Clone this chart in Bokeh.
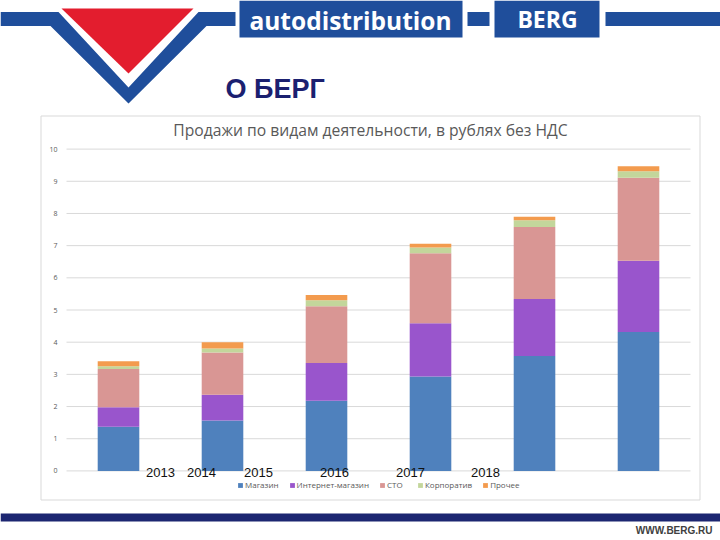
from bokeh.plotting import figure
from bokeh.models import (ColumnDataSource, Range1d, FixedTicker, Label, LinearAxis)
from bokeh.embed import file_html
from bokeh.resources import INLINE

# ---- data ----
years = [2013, 2014, 2015, 2016, 2017, 2018]
series_names = ["Магазин", "Интернет-магазин", "СТО", "Корпоратив", "Прочее"]
shop = [1.37, 1.57, 2.18, 2.93, 3.57, 4.32]
online = [0.61, 0.80, 1.17, 1.66, 1.77, 2.21]
sto = [1.19, 1.31, 1.77, 2.17, 2.24, 2.58]
corp = [0.08, 0.12, 0.18, 0.18, 0.21, 0.20]
other = [0.16, 0.20, 0.17, 0.12, 0.11, 0.16]
y_ticks = [0, 1, 2, 3, 4, 5, 6, 7, 8, 9, 10]
overlay_year_labels = ["2013", "2014", "2015", "2016", "2017", "2018"]

chart_title = "Продажи по видам деятельности, в рублях без НДС"
slide_title = "О БЕРГ"
site = "WWW.BERG.RU"

# ---- styles / layout (page pixels) ----
colors = ["#4F81BD", "#9955CC", "#D99694", "#C3D69B", "#F39B4E"]
BLUE = "#1F4E9B"
RED = "#E31D2E"
NAVY = "#1B2070"
FOOT = "#1C2671"
W, H = 720, 540
plot_left, plot_right = 65, 690        # plot area of the chart
y0_px, px_per_unit = 470.4, 32.18      # page y of value 0, pixels per unit
x_first_px, px_per_year = 118, 104     # page x of first bar, spacing
overlay_label_x = [160, 201, 258, 334, 410, 485]
overlay_label_y = 472

p = figure(width=W, height=H, x_range=Range1d(0, W), y_range=Range1d(H, 0),
           toolbar_location=None, output_backend="svg", min_border=0,
           x_axis_location=None, y_axis_location=None, title=None)
p.grid.visible = False
p.outline_line_color = None
p.background_fill_color = "white"
p.border_fill_color = "white"

# chart coordinate system mapped onto the page
p.extra_x_ranges = {"cx": Range1d(years[0] - x_first_px / px_per_year,
                                  years[0] + (W - x_first_px) / px_per_year)}
p.extra_y_ranges = {"cy": Range1d((y0_px - H) / px_per_unit, y0_px / px_per_unit)}

# ---- header ----
p.patch([0, 58, 128, 198, 235, 235, 206, 128, 50, 0],
        [11.5, 11.5, 87, 11.5, 11.5, 25.5, 25.5, 103, 25.5, 25.5],
        color=BLUE, line_width=0)
p.patch([61, 193, 128], [8, 8, 73], color=RED, line_width=0)
p.quad(left=[467, 605], right=[489, 720], top=[11.5, 11.5], bottom=[25.5, 25.5],
       color=BLUE, line_width=0)
p.quad(left=[239, 494], right=[462, 599], top=[0, 0], bottom=[37, 37],
       color=BLUE, line_width=0)
p.add_layout(Label(x=350, y=20, text="autodistribution", text_color="white",
                   text_font="Open Sans", text_font_style="bold", text_font_size="24.5px",
                   text_align="center", text_baseline="middle"))
p.add_layout(Label(x=547, y=18, text="BERG", text_color="white",
                   text_font="Open Sans", text_font_style="bold", text_font_size="23px",
                   text_align="center", text_baseline="middle"))
p.add_layout(Label(x=225, y=88, text=slide_title, text_color=NAVY,
                   text_font="Liberation Sans", text_font_style="bold", text_font_size="27px",
                   text_align="left", text_baseline="middle"))

# ---- chart box ----
p.quad(left=[40.5], right=[699.5], top=[115.5], bottom=[499.5],
       fill_color=None, line_color="#D9D9D9", line_width=1)
p.add_layout(Label(x=370, y=129, text=chart_title, text_color="#595959",
                   text_font="Open Sans", text_font_size="15.7px",
                   text_align="center", text_baseline="middle"))

# gridlines at the tick values, spanning the category band
p.segment(x0=[years[0] - 0.5] * len(y_ticks), x1=[years[-1] + 0.5] * len(y_ticks),
          y0=y_ticks, y1=y_ticks, line_color="#D9D9D9", line_width=1,
          x_range_name="cx", y_range_name="cy")

source = ColumnDataSource(dict(year=years, shop=shop, online=online, sto=sto,
                               corp=corp, other=other))
p.vbar_stack(["shop", "online", "sto", "corp", "other"], x="year", width=0.4,
             color=colors, line_width=0, source=source, legend_label=series_names,
             x_range_name="cx", y_range_name="cy")

yax = LinearAxis(y_range_name="cy", fixed_location=plot_left,
                 ticker=FixedTicker(ticks=y_ticks))
yax.axis_line_color = None
yax.major_tick_line_color = None
yax.minor_tick_line_color = None
yax.major_tick_out = 0
yax.major_tick_in = 0
yax.major_label_standoff = 8
yax.major_label_text_font_size = "7px"
yax.major_label_text_color = "#595959"
yax.major_label_text_font = "Open Sans"
p.add_layout(yax, "left")

for lx, txt in zip(overlay_label_x, overlay_year_labels):
    p.add_layout(Label(x=lx, y=overlay_label_y, text=txt, text_color="#111111",
                       text_font="Liberation Sans", text_font_size="13px",
                       text_align="center", text_baseline="middle"))

lg = p.legend[0]
lg.orientation = "horizontal"
lg.location = (237, H - 490)
lg.margin = 0
lg.padding = 0
lg.spacing = 10
lg.glyph_width = 6
lg.glyph_height = 6
lg.label_standoff = 2
lg.label_height = 8
lg.label_text_font_size = "8px"
lg.label_text_font = "Open Sans"
lg.label_text_color = "#595959"
lg.background_fill_alpha = 0
lg.border_line_color = None

# ---- footer ----
p.quad(left=[0], right=[W], top=[513], bottom=[521], color=FOOT, line_width=0)
p.add_layout(Label(x=712, y=530, text=site, text_color="#404040",
                   text_font="Liberation Sans", text_font_style="bold",
                   text_font_size="10px", text_align="right", text_baseline="middle"))

open("out.html", "w").write(file_html(p, INLINE))
